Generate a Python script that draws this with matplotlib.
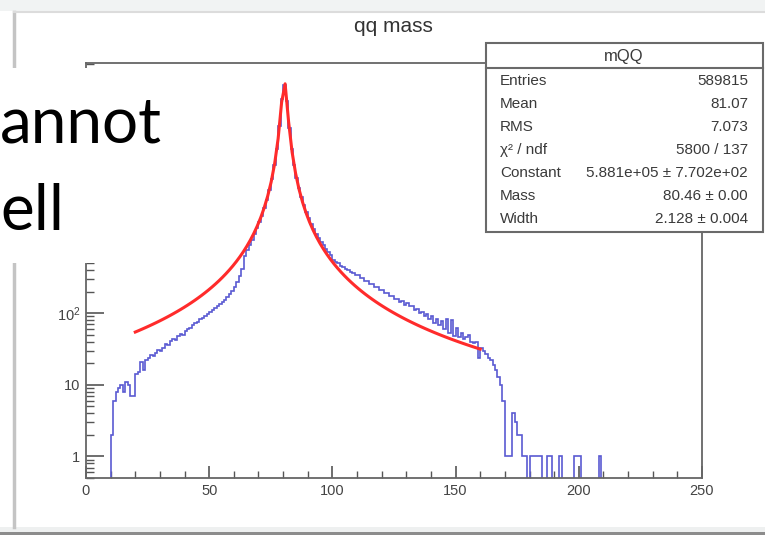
import numpy as np
import matplotlib
matplotlib.use("Agg")
import matplotlib.pyplot as plt
from matplotlib.patches import Rectangle
from matplotlib.lines import Line2D
from matplotlib.ticker import LogLocator, MultipleLocator, FuncFormatter, NullFormatter

# ---------------- data ----------------
title = "qq mass"
hist_name = "mQQ"

# qq invariant mass histogram, 1 GeV bins starting at 10 GeV
first_bin = 10
counts = [
    # 10 - 19
    2, 6, 8, 9, 10, 8, 11, 10, 7, 7,
    # 20 - 29
    14, 15, 21, 16, 22, 24, 26, 25, 28, 31,
    # 30 - 39
    30, 33, 37, 36, 41, 43, 42, 48, 51, 50,
    # 40 - 49
    56, 60, 63, 68, 72, 76, 82, 86, 92, 98,
    # 50 - 59
    104, 110, 118, 125, 134, 143, 155, 168, 185, 205,
    # 60 - 69
    232, 270, 330, 410, 620, 760, 900, 1060, 1260, 1520,
    # 70 - 79
    1850, 2300, 2950, 3850, 5250, 7500, 11600, 19800, 41000, 98000,
    # 80 - 89
    155000, 92000, 38500, 19800, 11800, 7800, 5550, 4150, 3220, 2570,
    # 90 - 99
    2100, 1760, 1490, 1290, 1130, 995, 885, 795, 720, 655,
    # 100 - 109
    560, 525, 500, 458, 447, 412, 405, 372, 368, 338,
    # 110 - 119
    336, 305, 310, 280, 282, 255, 252, 230, 232, 210,
    # 120 - 129
    212, 190, 192, 172, 176, 158, 160, 145, 148, 132,
    # 130 - 139
    140, 124, 126, 110, 114, 100, 104, 90, 97, 82,
    # 140 - 149
    92, 74, 84, 68, 78, 60, 82, 52, 80, 48,
    # 150 - 159
    62, 47, 52, 44, 47, 50, 40, 38, 40, 24,
    # 160 - 169
    33, 30, 27, 24, 22, 19, 16, 13, 10, 6,
    # 170 - 179
    1, 1, 1, 4, 3, 2, 2, 1, 1, 0,
    # 180 - 189
    1, 1, 1, 1, 1, 0, 0, 1, 1, 0,
    # 190 - 199
    0, 0, 1, 0, 0, 0, 0, 0, 1, 1,
    # 200 - 209
    1, 0, 0, 0, 0, 0, 0, 0, 1, 0,
]

# Breit-Wigner fit result
fit_constant = 5.881e5
fit_mass = 80.46
fit_width = 2.128
fit_range = (20.0, 160.0)

stats_labels = ["Entries", "Mean", "RMS", "\u03c7\u00b2 / ndf", "Constant", "Mass", "Width"]
stats_values = ["589815", "81.07", "7.073", "5800 / 137",
                "5.881e+05 \u00b1 7.702e+02", "80.46 \u00b1 0.00", "2.128 \u00b1 0.004"]

overlay_lines = ["annot", "ell"]

# ---------------- figure ----------------
W, H = 765, 535
fig = plt.figure(figsize=(W / 100, H / 100), dpi=100)
fig.patch.set_facecolor("white")


def fx(px):
    return px / W


def fy(py):
    return 1.0 - py / H


def frect(x0, y0, x1, y1, **kw):
    """Rectangle given in pixel coordinates measured from the top-left."""
    r = Rectangle((fx(x0), fy(y1)), fx(x1) - fx(x0), fy(y0) - fy(y1),
                  transform=fig.transFigure, **kw)
    fig.add_artist(r)
    return r


# canvas border
frect(0, 0, W, 11, facecolor="#f1f3f3", edgecolor="none", zorder=0.5)
frect(0, 527, W, 532, facecolor="#eef0f0", edgecolor="none", zorder=0.5)
frect(0, 532, W, H, facecolor="#8c8c8c", edgecolor="none", zorder=0.5)
fig.add_artist(Line2D([fx(14), fx(14)], [fy(12), fy(527)], transform=fig.transFigure,
                      color="#c4c4c4", lw=2.5, zorder=0.6))
fig.add_artist(Line2D([fx(14), fx(W)], [fy(12), fy(12)], transform=fig.transFigure,
                      color="#dcdcdc", lw=1.5, zorder=0.6))

ax = fig.add_axes([fx(86), fy(478), fx(702) - fx(86), fy(63) - fy(478)])
ax.set_facecolor("white")

edges = np.arange(first_bin, first_bin + len(counts) + 1)
ax.stairs(counts, edges, baseline=0, fill=False, color="#5a5ad2", lw=1.2, zorder=2)

x_fit = np.linspace(fit_range[0], fit_range[1], 100)
y_fit = fit_constant * (fit_width / (2 * np.pi)) / ((x_fit - fit_mass) ** 2 + fit_width ** 2 / 4)
ax.plot(x_fit, y_fit, color="#ff2b2b", lw=2.2, zorder=3)

ax.set_yscale("log")
ax.set_xlim(0, 250)
ax.set_ylim(0.5, 3.1e5)

ax.xaxis.set_major_locator(MultipleLocator(50))
ax.xaxis.set_minor_locator(MultipleLocator(10))
ax.yaxis.set_major_locator(LogLocator(base=10, numticks=12))
ax.yaxis.set_minor_locator(LogLocator(base=10, subs=np.arange(2, 10), numticks=12))
ax.yaxis.set_minor_formatter(NullFormatter())


def ylab(v, pos):
    # decades above 10^2 sit behind the caption panel
    n = int(round(np.log10(v)))
    if n == 0:
        return "1"
    if n == 1:
        return "10"
    if n == 2:
        return r"$\mathregular{10^{2}}$"
    return ""


ax.yaxis.set_major_formatter(FuncFormatter(ylab))

tick_col = "#555555"
ax.tick_params(axis="both", which="both", direction="in", top=False, right=False,
               color=tick_col, labelcolor="#444444", labelsize=10.5)
ax.tick_params(axis="x", which="major", length=9, width=1.2, pad=4)
ax.tick_params(axis="x", which="minor", length=5, width=1.0)
ax.tick_params(axis="y", which="major", length=13, width=1.2, pad=4)
ax.tick_params(axis="y", which="minor", length=6, width=1.0)
for lab in ax.get_xticklabels() + ax.get_yticklabels():
    lab.set_family("Liberation Sans")
for s in ax.spines.values():
    s.set_color("#666666")
    s.set_linewidth(1.3)

# title
fig.text(fx(393), fy(26), title, ha="center", va="center", fontsize=15,
         color="#333333", family="Liberation Sans")

# statistics box
frect(486, 43, 763, 232, facecolor="white", edgecolor="#6a6a6a", lw=1.5, zorder=4)
fig.add_artist(Line2D([fx(486), fx(763)], [fy(68), fy(68)], transform=fig.transFigure,
                      color="#6a6a6a", lw=1.5, zorder=4.1))
fig.text(fx(624), fy(56), hist_name, ha="center", va="center", fontsize=12,
         color="#3a3a3a", family="Liberation Sans", zorder=4.2)
row_y0, row_dy = 81, 23
for i, (lab, val) in enumerate(zip(stats_labels, stats_values)):
    y = row_y0 + i * row_dy
    fig.text(fx(500), fy(y), lab, ha="left", va="center", fontsize=11,
             color="#3a3a3a", family="Liberation Sans", zorder=4.2)
    fig.text(fx(748), fy(y), val, ha="right", va="center", fontsize=11,
             color="#3a3a3a", family="Liberation Sans", zorder=4.2)

# white caption panel with large text
frect(0, 68, 160, 263, facecolor="white", edgecolor="none", zorder=6)
fig.text(fx(0), fy(142), overlay_lines[0], ha="left", va="baseline", fontsize=46,
         color="black", family="Lato", zorder=6.5)
fig.text(fx(0), fy(230), overlay_lines[1], ha="left", va="baseline", fontsize=46,
         color="black", family="Lato", zorder=6.5)

fig.savefig("out.png", dpi=100)
